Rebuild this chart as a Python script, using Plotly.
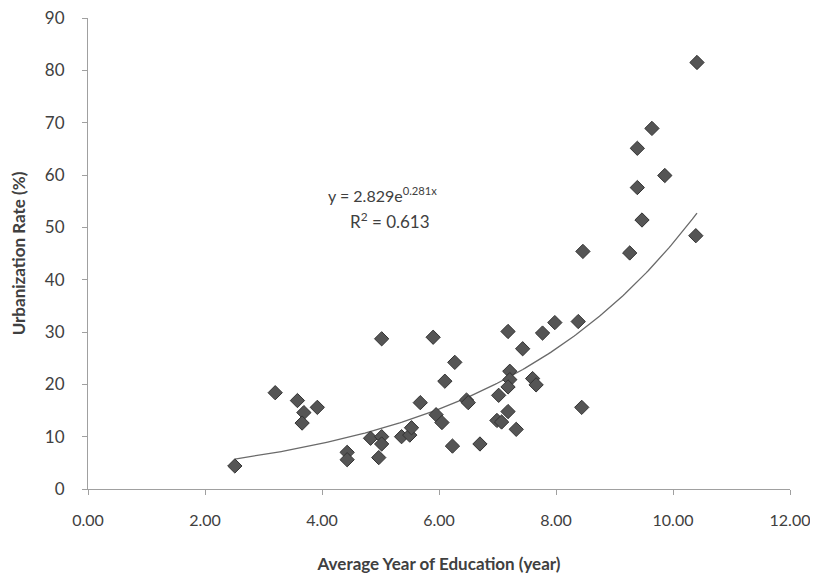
import numpy as np
import plotly.graph_objects as go

# Data
education_years = [2.51, 3.20, 3.58, 3.69, 3.66, 3.92, 4.43, 4.43, 4.83, 5.02,
                   5.02, 4.97, 5.36, 5.50, 5.53, 5.02, 5.68, 5.90, 6.27, 6.10,
                   5.95, 6.05, 6.23, 6.47, 6.50, 6.70, 7.02, 6.99, 7.07, 7.18,
                   7.32, 7.18, 7.21, 7.21, 7.18, 7.43, 7.60, 7.66, 7.77, 7.98,
                   8.38, 8.44, 8.46, 9.26, 9.39, 9.64, 9.39, 9.47, 9.86, 10.39,
                   10.41]
urbanization_rate = [4.4, 18.4, 16.9, 14.6, 12.6, 15.6, 7.0, 5.6, 9.7, 10.0,
                     8.6, 6.0, 10.0, 10.3, 11.7, 28.7, 16.5, 29.0, 24.2, 20.6,
                     14.2, 12.7, 8.2, 17.0, 16.5, 8.6, 17.9, 13.1, 12.8, 14.8,
                     11.4, 30.1, 22.5, 20.9, 19.5, 26.8, 21.1, 19.9, 29.8, 31.8,
                     32.0, 15.6, 45.4, 45.1, 65.1, 68.9, 57.6, 51.4, 59.9, 48.4,
                     81.5]

# Trendline coefficients shown on the chart
trend_a = 2.829
trend_b = 0.281
r_squared = 0.613

x_ticks = [0, 2, 4, 6, 8, 10, 12]
x_tick_labels = ["0.00", "2.00", "4.00", "6.00", "8.00", "10.00", "12.00"]
y_ticks = [0, 10, 20, 30, 40, 50, 60, 70, 80, 90]

font_family = "Lato, 'Open Sans', sans-serif"
text_color = "#404040"
axis_color = "#a0a0a0"

tx = np.linspace(min(education_years), max(education_years), 200)
ty = trend_a * np.exp(trend_b * tx)

fig = go.Figure()
fig.add_trace(go.Scatter(
    x=tx, y=ty, mode="lines",
    line=dict(color="#6a6a6a", width=1.3),
    hoverinfo="skip", showlegend=False,
))
fig.add_trace(go.Scatter(
    x=education_years, y=urbanization_rate, mode="markers",
    marker=dict(symbol="diamond", size=11, color="#555555",
                line=dict(color="#333333", width=1)),
    showlegend=False,
))

fig.add_annotation(x=5.04, y=56.3, xref="x", yref="y",
                   text=f"y = {trend_a}e<sup>{trend_b}x</sup>",
                   showarrow=False, font=dict(family=font_family, size=16, color=text_color))
fig.add_annotation(x=5.16, y=51.3, xref="x", yref="y",
                   text=f"R<sup>2</sup> = {r_squared}",
                   showarrow=False, font=dict(family=font_family, size=17, color=text_color))

fig.update_layout(
    width=810, height=569,
    margin=dict(l=80, r=28, t=10, b=88),
    paper_bgcolor="white", plot_bgcolor="white",
    font=dict(family=font_family, size=17, color=text_color),
    xaxis=dict(
        range=[0, 12], tickvals=x_ticks, ticktext=x_tick_labels,
        showgrid=False, zeroline=False, automargin=False,
        showline=True, linecolor=axis_color, linewidth=1.2,
        ticks="outside", ticklen=5, tickcolor=axis_color,
        ticklabelstandoff=12, ticklabeloverflow="allow",
        tickfont=dict(size=16, color=text_color),
        title=dict(text="<b>Average Year of Education (year)</b>",
                   font=dict(size=17, color=text_color), standoff=29),
    ),
    yaxis=dict(
        range=[0, 90], tickvals=y_ticks,
        showgrid=False, zeroline=False, automargin=False,
        showline=True, linecolor=axis_color, linewidth=1.2,
        ticks="outside", ticklen=5, tickcolor=axis_color,
        ticklabelstandoff=14, ticklabeloverflow="allow",
        tickfont=dict(size=17, color=text_color),
        title=dict(text="<b>Urbanization Rate (%)</b>",
                   font=dict(size=17, color=text_color), standoff=20),
    ),
)

fig.write_html("out.html")
